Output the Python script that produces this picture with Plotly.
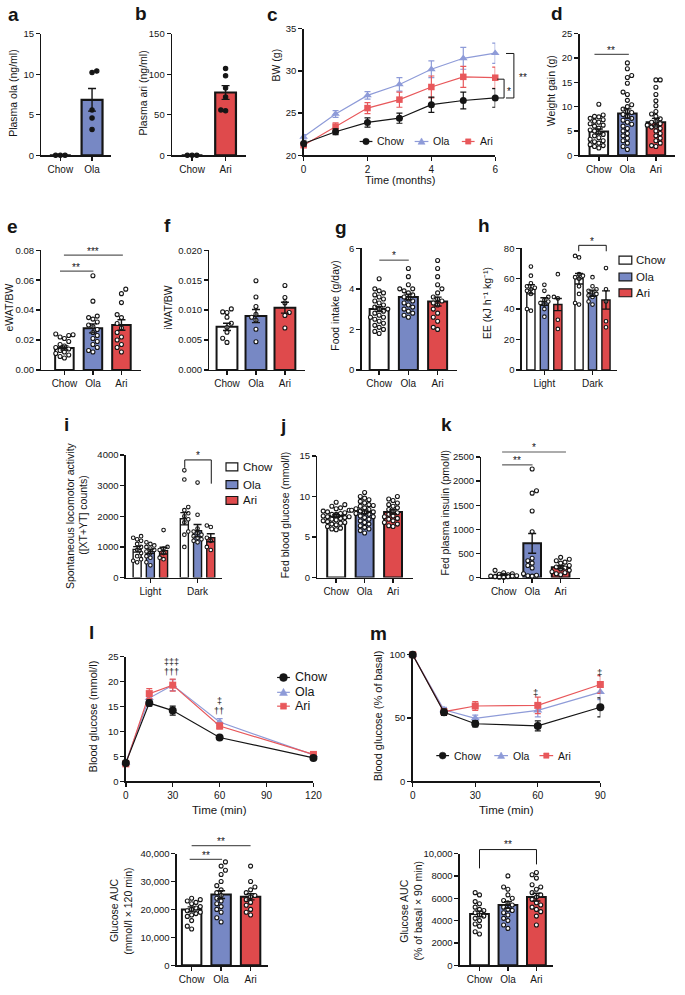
import plotly.graph_objects as go

W, H = 685, 995
FONT = "Liberation Sans, Arial, Helvetica, sans-serif"
INK = "#151515"
SIG = "#5a5a5a"
BAR_COLORS = ["#FFFFFF", "#7788C4", "#DF4A4C"]
LINE_COLORS = ["#151515", "#8E9BD8", "#E8585B"]
SYMBOLS = ["circle", "triangle-up", "square"]

# ---------------------------------------------------------------- data
groups = ["Chow", "Ola", "Ari"]

a_groups = ["Chow", "Ola"]
a_mean = [0.0, 6.85]
a_sem = [0.0, 1.4]
a_chow_pts = [0.0, 0.0, 0.0]
a_ola_pts = [10.4, 10.2, 5.6, 4.6, 3.2]

b_groups = ["Chow", "Ari"]
b_mean = [0.0, 77.5]
b_sem = [0.0, 8.5]
b_chow_pts = [0.0, 0.0, 0.0]
b_ari_pts = [107, 98, 83, 72, 56, 55]

c_months = [0, 1, 2, 3, 4, 5, 6]
c_chow = [21.4, 22.8, 23.9, 24.4, 26.0, 26.5, 26.8]
c_chow_sem = [0.3, 0.35, 0.55, 0.6, 0.9, 1.0, 1.1]
c_ola = [22.2, 24.9, 27.1, 28.4, 30.2, 31.5, 32.1]
c_ola_sem = [0.25, 0.4, 0.45, 0.8, 1.0, 1.3, 1.2]
c_ari = [21.2, 23.4, 25.6, 26.6, 28.1, 29.3, 29.2]
c_ari_sem = [0.3, 0.45, 0.65, 0.9, 1.3, 1.25, 1.25]

d_mean = [4.9, 8.6, 6.8]
d_sem = [0.5, 0.95, 0.8]
d_chow_pts = [10.5, 8.3, 8.0, 7.9, 7.6, 7.3, 7.0, 6.8, 6.5, 6.2, 6.0, 5.6, 5.2,
              5.0, 4.6, 4.3, 4.0, 3.6, 3.3, 3.0, 2.8, 2.5, 2.2, 2.0, 1.8, 1.5]
d_ola_pts = [19.0, 17.8, 16.4, 16.0, 14.8, 13.0, 12.5, 11.3, 10.4, 10.0, 9.5, 9.0,
             8.8, 8.4, 8.0, 7.6, 7.2, 6.8, 6.4, 6.0, 5.5, 5.0, 4.5, 4.0, 3.5, 3.0,
             2.5, 1.8, 1.2]
d_ari_pts = [15.5, 15.5, 14.0, 12.5, 11.2, 10.2, 9.0, 8.5, 8.0, 7.5, 7.0, 6.8, 6.5,
             6.2, 6.0, 5.8, 5.5, 5.0, 4.5, 4.0, 3.5, 3.0, 2.5, 2.0, 1.8]

e_mean = [0.0147, 0.0278, 0.0300]
e_sem = [0.0014, 0.0030, 0.0035]
e_chow_pts = [0.024, 0.0235, 0.023, 0.022, 0.021, 0.019, 0.017, 0.016, 0.015,
              0.014, 0.013, 0.012, 0.011, 0.010, 0.009, 0.008]
e_ola_pts = [0.063, 0.046, 0.036, 0.035, 0.034, 0.032, 0.030, 0.029, 0.027, 0.025,
             0.023, 0.021, 0.019, 0.017, 0.015, 0.013, 0.012]
e_ari_pts = [0.054, 0.051, 0.045, 0.037, 0.035, 0.031, 0.028, 0.025, 0.022, 0.020,
             0.017, 0.015, 0.012]

f_mean = [0.0072, 0.0090, 0.0104]
f_sem = [0.0006, 0.0011, 0.0009]
f_chow_pts = [0.0102, 0.0097, 0.0096, 0.0088, 0.0078, 0.0071, 0.0063, 0.0053, 0.0046]
f_ola_pts = [0.0149, 0.0122, 0.0106, 0.0093, 0.0088, 0.0083, 0.0068, 0.0047]
f_ari_pts = [0.0141, 0.0121, 0.0112, 0.0096, 0.0091, 0.0070]

g_mean = [3.0, 3.6, 3.37]
g_sem = [0.12, 0.14, 0.22]
g_chow_pts = [4.5, 4.0, 3.9, 3.8, 3.7, 3.6, 3.5, 3.4, 3.3, 3.2, 3.1, 3.0, 3.0, 2.9,
              2.8, 2.7, 2.6, 2.6, 2.5, 2.4, 2.3, 2.2, 2.1, 2.0, 1.9, 1.8]
g_ola_pts = [5.0, 4.6, 4.2, 4.0, 4.0, 3.9, 3.8, 3.7, 3.6, 3.5, 3.4, 3.3, 3.2, 3.1,
             3.0, 2.9, 2.8, 2.7, 2.6]
g_ari_pts = [5.4, 5.0, 4.6, 4.2, 4.0, 3.8, 3.6, 3.5, 3.4, 3.3, 3.2, 3.0, 2.8, 2.6,
             2.4, 2.1, 2.0]

h_periods = ["Light", "Dark"]
h_chow = [53, 60]
h_chow_sem = [3.0, 3.5]
h_ola = [45, 50.5]
h_ola_sem = [2.5, 2.0]
h_ari = [43, 46]
h_ari_sem = [4.0, 6.0]
h_chow_light_pts = [68, 62, 57, 55, 54, 53, 52, 50, 40, 39]
h_chow_dark_pts = [75, 74, 63, 62, 61, 60, 55, 50, 44, 43]
h_ola_light_pts = [56, 52, 48, 46, 45, 44, 43, 40, 35]
h_ola_dark_pts = [61, 55, 53, 52, 51, 50, 49, 48, 45, 43]
h_ari_light_pts = [63, 48, 47, 33, 27]
h_ari_dark_pts = [67, 53, 45, 32, 28]

i_periods = ["Light", "Dark"]
i_chow = [920, 1920]
i_chow_sem = [90, 200]
i_ola = [860, 1530]
i_ola_sem = [70, 200]
i_ari = [880, 1300]
i_ari_sem = [110, 130]
i_chow_light_pts = [1350, 1300, 1250, 1200, 1100, 1000, 900, 800, 700, 600, 550, 500]
i_chow_dark_pts = [3500, 3200, 2300, 2200, 2100, 2000, 1900, 1800, 1500, 1400, 1000]
i_ola_light_pts = [1150, 1100, 1050, 1000, 950, 900, 850, 800, 700, 650, 500, 400]
i_ola_dark_pts = [3100, 2050, 1600, 1500, 1450, 1400, 1350, 1300, 1250, 1200, 1150]
i_ari_light_pts = [1550, 1000, 950, 900, 800, 650, 600]
i_ari_dark_pts = [1700, 1650, 1300, 1200, 1000, 900]

j_mean = [7.6, 8.1, 8.1]
j_sem = [0.15, 0.22, 0.25]
j_chow_pts = [9.3, 9.0, 8.8, 8.6, 8.5, 8.3, 8.2, 8.1, 8.0, 7.9, 7.8, 7.8, 7.7, 7.6,
              7.5, 7.5, 7.4, 7.3, 7.2, 7.1, 7.0, 6.9, 6.8, 6.7, 6.6, 6.5, 6.3, 6.1,
              6.0, 5.9]
j_ola_pts = [10.5, 10.0, 9.8, 9.6, 9.4, 9.2, 9.0, 8.9, 8.8, 8.6, 8.5, 8.4, 8.3, 8.2,
             8.1, 8.0, 7.9, 7.8, 7.6, 7.5, 7.4, 7.2, 7.0, 6.8, 6.6, 6.4, 6.2, 6.0,
             5.8, 5.5]
j_ari_pts = [10.0, 9.7, 9.5, 9.2, 9.0, 8.8, 8.6, 8.4, 8.2, 8.0, 7.8, 7.6, 7.5, 7.3,
             7.2, 7.0, 6.8, 6.6, 6.4, 6.3]

k_mean = [60, 710, 215]
k_sem = [12, 205, 30]
k_chow_pts = [150, 100, 80, 70, 60, 50, 40, 30, 30, 20, 20, 10, 5]
k_ola_pts = [2250, 1800, 1750, 1380, 950, 400, 350, 300, 250, 200, 80, 50, 40, 30]
k_ari_pts = [420, 380, 350, 320, 300, 250, 220, 200, 180, 150, 120, 100, 80, 60]

l_time = [0, 15, 30, 60, 120]
l_chow = [3.7, 15.7, 14.2, 8.8, 4.7]
l_chow_sem = [0.2, 0.6, 0.9, 0.35, 0.2]
l_ola = [3.8, 16.7, 19.3, 11.9, 5.3]
l_ola_sem = [0.2, 1.0, 1.1, 0.7, 0.3]
l_ari = [3.5, 17.6, 19.3, 11.1, 5.4]
l_ari_sem = [0.2, 1.0, 1.2, 0.6, 0.3]

m_time = [0, 15, 30, 60, 90]
m_chow = [100, 54.5, 45.5, 43.8, 58.5]
m_chow_sem = [0, 2.5, 2.5, 4.0, 7.5]
m_ola = [100, 56.5, 49.8, 56.0, 70.5]
m_ola_sem = [0, 2.0, 2.5, 5.0, 6.0]
m_ari = [100, 55.0, 59.5, 60.0, 76.5]
m_ari_sem = [0, 2.0, 3.5, 6.5, 7.0]

la_mean = [20000, 25300, 24500]
la_sem = [900, 1400, 1100]
la_chow_pts = [24000, 23500, 23000, 22500, 22000, 21000, 20500, 20000, 19500, 19000,
               18500, 18000, 17500, 16000, 14000, 13000]
la_ola_pts = [37000, 35500, 34000, 32500, 30000, 28500, 27000, 26000, 25000, 24000,
              23000, 22000, 21000, 20000, 19000, 17000, 15500]
la_ari_pts = [35500, 30000, 28000, 27000, 26000, 25000, 24500, 23500, 22500, 21500,
              20000, 19000, 18000]

ma_mean = [4600, 5400, 6100]
ma_sem = [250, 300, 350]
ma_chow_pts = [6500, 6300, 5700, 5500, 5200, 5000, 4900, 4700, 4500, 4400, 4200, 4000,
               3700, 3500, 3000, 2800]
ma_ola_pts = [8000, 7000, 6800, 6300, 6000, 5800, 5600, 5400, 5200, 5000, 4900, 4700,
              4500, 4200, 4000, 3600, 3300]
ma_ari_pts = [8300, 8100, 7800, 7200, 7000, 6800, 6500, 6300, 6100, 5900, 5600, 5400,
              5200, 5000, 4800, 4400, 3600]

# ---------------------------------------------------------------- helpers
traces = []
axes = {}
shapes = []
annotations = []


def axname(kind, n):
    return f"{kind}axis" if n == 1 else f"{kind}axis{n}"


def axref(kind, n):
    return kind if n == 1 else f"{kind}{n}"


def add_panel(n, box, xr, yr, yvals, ytext, xvals, xtext):
    x0, x1, yt, yb = box
    base = dict(showline=True, linecolor=INK, linewidth=1.4, ticks="outside",
                ticklen=4, tickwidth=1.4, tickcolor=INK, showgrid=False,
                zeroline=False, fixedrange=True, tickmode="array")
    xa = dict(base)
    xa.update(domain=[x0 / W, x1 / W], range=list(xr), anchor=axref("y", n),
              tickvals=list(xvals), ticktext=list(xtext),
              tickfont=dict(family=FONT, size=10, color=INK))
    ya = dict(base)
    ya.update(domain=[1 - yb / H, 1 - yt / H], range=list(yr), anchor=axref("x", n),
              tickvals=list(yvals), ticktext=list(ytext),
              tickfont=dict(family=FONT, size=9.5, color=INK))
    axes[axname("x", n)] = xa
    axes[axname("y", n)] = ya
    return dict(xs=(x1 - x0) / (xr[1] - xr[0]), ys=(yb - yt) / (yr[1] - yr[0]))


def swarm(vals, ystep, dx, maxk=3):
    idx = sorted(range(len(vals)), key=lambda i: vals[i])
    placed = []
    offs = [0.0] * len(vals)
    for rank, i in enumerate(idx):
        v = vals[i]
        cands = [0]
        for k in range(1, maxk + 1):
            cands += [k, -k] if rank % 2 == 0 else [-k, k]
        best, fallback, fb_hits = None, 0.0, None
        for c in cands:
            x = c * dx
            hits = sum(1 for (yy, xx) in placed
                       if abs(yy - v) < ystep and abs(xx - x) < dx * 0.9)
            if hits == 0:
                best = x
                break
            if fb_hits is None or hits < fb_hits:
                fb_hits, fallback = hits, x
        if best is None:
            best = fallback
        placed.append((v, best))
        offs[i] = best
    return offs


def bars(n, sc, positions, means, sems, colors, pts_list, width, lw=2.0,
         dot=4.0, dotfill="white", maxk=3):
    xr, yr = axref("x", n), axref("y", n)
    traces.append(go.Bar(x=list(positions), y=list(means), width=width,
                         marker=dict(color=list(colors),
                                     line=dict(color=INK, width=lw)),
                         xaxis=xr, yaxis=yr, showlegend=False, hoverinfo="skip"))
    ystep = (dot + 0.6) / sc["ys"]
    dx = (dot + 0.4) / sc["xs"]
    for pos, pts in zip(positions, pts_list):
        offs = swarm(pts, ystep, dx, maxk)
        traces.append(go.Scatter(x=[pos + o for o in offs], y=list(pts), mode="markers",
                                 marker=dict(size=dot, color=dotfill,
                                             line=dict(color=INK, width=1.1)),
                                 xaxis=xr, yaxis=yr, showlegend=False,
                                 cliponaxis=False, hoverinfo="skip"))
    traces.append(go.Scatter(x=list(positions), y=list(means), mode="markers",
                             marker=dict(size=2, color="rgba(0,0,0,0)"),
                             error_y=dict(type="data", array=list(sems), color=INK,
                                          thickness=1.4, width=4),
                             xaxis=xr, yaxis=yr, showlegend=False,
                             cliponaxis=False, hoverinfo="skip"))


def lines(n, x, series, sems, sizes):
    xr, yr = axref("x", n), axref("y", n)
    for k in [1, 2, 0]:
        traces.append(go.Scatter(x=list(x), y=list(series[k]), mode="lines+markers",
                                 line=dict(color=LINE_COLORS[k], width=1.2),
                                 marker=dict(symbol=SYMBOLS[k], size=sizes[k],
                                             color=LINE_COLORS[k]),
                                 error_y=dict(type="data", array=list(sems[k]),
                                              color=LINE_COLORS[k], thickness=1.2,
                                              width=3),
                                 xaxis=xr, yaxis=yr, showlegend=False,
                                 cliponaxis=False, hoverinfo="skip"))


def px(x):
    return x / W


def py(y):
    return 1 - y / H


def text(t, x, y, size=10.5, angle=0, bold=False, xanchor="center",
         yanchor="middle", color=INK):
    annotations.append(dict(text=f"<b>{t}</b>" if bold else t, x=px(x), y=py(y),
                            xref="paper", yref="paper", showarrow=False,
                            textangle=angle, xanchor=xanchor, yanchor=yanchor,
                            font=dict(family=FONT, size=size, color=color)))


def seg(x0, y0, x1, y1, color=SIG, width=1.2):
    shapes.append(dict(type="line", xref="paper", yref="paper", x0=px(x0), y0=py(y0),
                       x1=px(x1), y1=py(y1), line=dict(color=color, width=width)))


def rect(x0, y0, x1, y1, fill, lc=INK, lw=1.2):
    shapes.append(dict(type="rect", xref="paper", yref="paper", x0=px(x0), y0=py(y0),
                       x1=px(x1), y1=py(y1), fillcolor=fill,
                       line=dict(color=lc, width=lw)))


def circ(xc, yc, r, fill):
    shapes.append(dict(type="circle", xref="paper", yref="paper", x0=px(xc - r),
                       y0=py(yc + r), x1=px(xc + r), y1=py(yc - r), fillcolor=fill,
                       line=dict(color=fill, width=0.5)))


def tri(xc, yc, r, fill):
    p = (f"M{px(xc - r)},{py(yc + r * 0.8)} L{px(xc + r)},{py(yc + r * 0.8)} "
         f"L{px(xc)},{py(yc - r)} Z")
    shapes.append(dict(type="path", xref="paper", yref="paper", path=p,
                       fillcolor=fill, line=dict(color=fill, width=0.5)))


def line_key(k, x0, x1, y, r, label, fs):
    xc = (x0 + x1) / 2
    seg(x0, y, x1, y, LINE_COLORS[k], 1.2)
    if k == 0:
        circ(xc, y, r, LINE_COLORS[k])
    elif k == 1:
        tri(xc, y, r, LINE_COLORS[k])
    else:
        rect(xc - r * 0.9, y - r * 0.9, xc + r * 0.9, y + r * 0.9, LINE_COLORS[k],
             LINE_COLORS[k], 0.5)
    text(label, x1 + 3, y, size=fs, xanchor="left")


def tick_labels(vals, decimals=0, comma=False):
    if comma:
        return [f"{v:,.0f}" for v in vals]
    return [f"{v:.{decimals}f}" for v in vals]


cat3 = [0, 1, 2]

# ---------------------------------------------------------------- panels
yv = [0, 5, 10, 15]
sc = add_panel(1, (39, 110, 28, 151), [-0.6, 1.6], [0, 15], yv, tick_labels(yv),
               [0, 1], a_groups)
bars(1, sc, [0, 1], a_mean, a_sem, [BAR_COLORS[0], BAR_COLORS[1]],
     [a_chow_pts, a_ola_pts], 0.66, lw=2.2, dot=4.4, dotfill=INK)

yv = [0, 50, 100, 150]
sc = add_panel(2, (172, 247, 28, 151), [-0.6, 1.6], [0, 150], yv, tick_labels(yv),
               [0, 1], b_groups)
bars(2, sc, [0, 1], b_mean, b_sem, [BAR_COLORS[0], BAR_COLORS[2]],
     [b_chow_pts, b_ari_pts], 0.62, lw=2.2, dot=4.4, dotfill=INK)

yv = [20, 25, 30, 35]
add_panel(3, (306, 501, 23, 151), [0, 6], [20, 35], yv, tick_labels(yv),
          [0, 2, 4, 6], ["0", "2", "4", "6"])
lines(3, c_months, [c_chow, c_ola, c_ari], [c_chow_sem, c_ola_sem, c_ari_sem],
      [7, 7.5, 6.5])

yv = [0, 5, 10, 15, 20, 25]
sc = add_panel(4, (587, 684, 28, 151), [-0.67, 2.67], [0, 25], yv, tick_labels(yv),
               cat3, groups)
bars(4, sc, cat3, d_mean, d_sem, BAR_COLORS, [d_chow_pts, d_ola_pts, d_ari_pts], 0.65)

yv = [0, 0.02, 0.04, 0.06, 0.08]
sc = add_panel(5, (39, 140, 247, 368), [-0.81, 2.67], [0, 0.08], yv,
               tick_labels(yv, 2), cat3, groups)
bars(5, sc, cat3, e_mean, e_sem, BAR_COLORS, [e_chow_pts, e_ola_pts, e_ari_pts], 0.65)

yv = [0, 0.005, 0.010, 0.015, 0.020]
sc = add_panel(6, (210, 307, 247, 368), [-0.61, 2.68], [0, 0.02], yv,
               tick_labels(yv, 3), cat3, groups)
bars(6, sc, cat3, f_mean, f_sem, BAR_COLORS, [f_chow_pts, f_ola_pts, f_ari_pts], 0.72)

yv = [0, 2, 4, 6]
sc = add_panel(7, (365, 462, 245, 368), [-0.6, 2.66], [0, 6], yv, tick_labels(yv),
               cat3, groups)
bars(7, sc, cat3, g_mean, g_sem, BAR_COLORS, [g_chow_pts, g_ola_pts, g_ari_pts], 0.65)

yv = [0, 20, 40, 60, 80]
sc = add_panel(8, (528, 625, 245, 368), [-0.47, 1.51], [0, 80], yv, tick_labels(yv),
               [0, 1], h_periods)
GOFF = 0.28
BW2 = 0.17
h_means = [h_chow, h_ola, h_ari]
h_sems = [h_chow_sem, h_ola_sem, h_ari_sem]
h_pts = [[h_chow_light_pts, h_chow_dark_pts], [h_ola_light_pts, h_ola_dark_pts],
         [h_ari_light_pts, h_ari_dark_pts]]
for k in range(3):
    pos = [p + (k - 1) * GOFF for p in (0, 1)]
    bars(8, sc, pos, h_means[k], h_sems[k], [BAR_COLORS[k]] * 2, h_pts[k], BW2,
         lw=1.4, dot=3.6, maxk=1)

yv = [0, 1000, 2000, 3000, 4000]
sc = add_panel(9, (125, 223, 454, 578), [-0.52, 1.52], [0, 4000], yv,
               tick_labels(yv), [0, 1], i_periods)
i_means = [i_chow, i_ola, i_ari]
i_sems = [i_chow_sem, i_ola_sem, i_ari_sem]
i_pts = [[i_chow_light_pts, i_chow_dark_pts], [i_ola_light_pts, i_ola_dark_pts],
         [i_ari_light_pts, i_ari_dark_pts]]
for k in range(3):
    pos = [p + (k - 1) * GOFF for p in (0, 1)]
    bars(9, sc, pos, i_means[k], i_sems[k], [BAR_COLORS[k]] * 2, i_pts[k], BW2,
         lw=1.4, dot=3.6, maxk=1)

yv = [0, 5, 10, 15]
sc = add_panel(10, (320, 417, 455, 578), [-0.66, 2.69], [0, 15], yv, tick_labels(yv),
               cat3, groups)
bars(10, sc, cat3, j_mean, j_sem, BAR_COLORS, [j_chow_pts, j_ola_pts, j_ari_pts], 0.63)

yv = [0, 500, 1000, 1500, 2000, 2500]
sc = add_panel(11, (487, 587, 456, 578), [-0.78, 2.67], [0, 2500], yv,
               tick_labels(yv), cat3, groups)
bars(11, sc, cat3, k_mean, k_sem, BAR_COLORS, [k_chow_pts, k_ola_pts, k_ari_pts], 0.62)

yv = [0, 5, 10, 15, 20, 25]
add_panel(12, (125, 316, 658, 784), [0, 120], [0, 25], yv, tick_labels(yv),
          [0, 30, 60, 90, 120], ["0", "30", "60", "90", "120"])
lines(12, l_time, [l_chow, l_ola, l_ari], [l_chow_sem, l_ola_sem, l_ari_sem],
      [8, 8, 7])

yv = [0, 50, 100]
add_panel(13, (417, 608, 656, 784), [0, 90], [0, 100], yv, tick_labels(yv),
          [0, 30, 60, 90], ["0", "30", "60", "90"])
lines(13, m_time, [m_chow, m_ola, m_ari], [m_chow_sem, m_ola_sem, m_ari_sem],
      [8, 8, 7])

yv = [0, 10000, 20000, 30000, 40000]
sc = add_panel(14, (177, 270, 857, 970), [-0.5, 2.6], [0, 40000], yv,
               tick_labels(yv, comma=True), cat3, groups)
bars(14, sc, cat3, la_mean, la_sem, BAR_COLORS, [la_chow_pts, la_ola_pts, la_ari_pts],
     0.66)

yv = [0, 2000, 4000, 6000, 8000, 10000]
sc = add_panel(15, (465, 560, 857, 970), [-0.69, 2.59], [0, 10000], yv,
               ["0", "2000", "4000", "6000", "8000", "10,000"], cat3, groups)
bars(15, sc, cat3, ma_mean, ma_sem, BAR_COLORS, [ma_chow_pts, ma_ola_pts, ma_ari_pts],
     0.66)

# ---------------------------------------------------------------- legends
for k, (x0, x1) in enumerate([(363, 376), (419, 433), (467, 480)]):
    line_key(k, x0, x1, 137, [3.3, 3.6, 3.0][k], groups[k], 10.5)
for k, y in enumerate([679, 694, 708]):
    line_key(k, 279, 292, y, [4, 4, 3.4][k], groups[k], 12.5)
for k, (x0, x1) in enumerate([(441, 454), (500, 514), (546, 560)]):
    line_key(k, x0, x1, 758, [3.5, 3.6, 3.0][k], groups[k], 10.5)
for k, y in enumerate([257, 274, 290]):
    rect(627, y - 4, 640, y + 4, BAR_COLORS[k])
    text(groups[k], 642, y, size=11.5, xanchor="left")
for k, y in enumerate([466, 484, 500]):
    rect(227, y - 4, 239, y + 4, BAR_COLORS[k])
    text(groups[k], 242, y, size=11.5, xanchor="left")

# ---------------------------------------------------------------- labels
for t, x, y in [("a", 3, 9), ("b", 132, 8), ("c", 267, 9), ("d", 556, 8),
                ("e", 2, 223), ("f", 162, 222), ("g", 336, 224), ("h", 481, 222),
                ("i", 60, 423), ("j", 280, 424), ("k", 444, 423), ("l", 86, 633),
                ("m", 372, 635)]:
    text(t, x, y, size=19, bold=True, xanchor="left")

YT = 10.5
text("Plasma ola (ng/ml)", 10, 88, YT, -90)
text("Plasma ari (ng/ml)", 143, 88, YT, -90)
text("BW (g)", 278, 60, YT, -90)
text("Weight gain (g)", 558, 86, YT, -90)
text("Time (months)", 405, 176, 11)
text("eWAT/BW", 6, 305, YT, -90)
text("iWAT/BW", 168, 305, YT, -90)
text("Food intake (g/day)", 338, 303, YT, -90)
text("EE (kJ h⁻¹ kg⁻¹)", 492, 300, YT, -90)
text("Spontaneous locomotor activity", 68, 515, YT, -90)
text("([XT+YT] counts)", 82, 515, YT, -90)
text("Fed blood glucose (mmol/l)", 287, 514, YT, -90)
text("Fed plasma insulin (pmol/l)", 450, 513, YT, -90)
text("Blood glucose (mmol/l)", 92, 718, 11, -90)
text("Blood glucose (% of basal)", 382, 718, 11, -90)
text("Time (min)", 220, 813, 11.5)
text("Time (min)", 512, 813, 11.5)
text("Glucose AUC", 113, 915, YT, -90)
text("(mmol/l × 120 min)", 127, 915, YT, -90)
text("Glucose AUC", 408, 915, YT, -90)
text("(% of basal × 90 min)", 422, 915, YT, -90)

# ---------------------------------------------------------------- significance
seg(520, 48, 520, 93, INK, 1)
seg(512, 48, 520, 48, INK, 1)
seg(512, 93, 520, 93, INK, 1)
text("**", 529, 72, 10)
seg(510, 74, 510, 93, INK, 1)
seg(503, 74, 510, 74, INK, 1)
seg(503, 93, 510, 93, INK, 1)
text("*", 515, 86, 10)
seg(602, 49, 637, 49)
text("**", 619, 45, 10)
seg(62, 252, 122, 252)
text("***", 92, 248, 10)
seg(58, 268, 92, 268)
text("**", 74, 264, 10)
seg(383, 257, 413, 257)
text("*", 398, 252, 10)
seg(586, 242, 614, 242, INK, 1)
seg(586, 242, 586, 248, INK, 1)
seg(614, 242, 614, 248, INK, 1)
text("*", 600, 238, 10)
seg(185, 459, 212, 459, INK, 1)
seg(185, 459, 185, 467, INK, 1)
seg(212, 459, 212, 483, INK, 1)
text("*", 198, 455, 10)
seg(508, 451, 573, 451)
text("*", 540, 446, 10)
seg(508, 464, 539, 464)
text("**", 523, 460, 10)
text("‡‡‡", 172, 663, 9)
text("†††", 172, 673, 9)
text("‡", 220, 703, 9)
text("††", 220, 713, 9)
text("‡", 542, 694, 9.5)
text("‡", 607, 674, 9.5)
seg(192, 849, 252, 849)
text("**", 222, 845, 10)
seg(190, 863, 223, 863)
text("**", 207, 859, 10)
seg(485, 853, 543, 853, INK, 1)
seg(485, 853, 485, 872, INK, 1)
seg(543, 853, 543, 868, INK, 1)
text("**", 514, 848, 10)

fig = go.Figure(data=traces)
fig.update_layout(width=W, height=H, margin=dict(l=0, r=0, t=0, b=0),
                  paper_bgcolor="white", plot_bgcolor="white", showlegend=False,
                  barmode="overlay", font=dict(family=FONT, color=INK),
                  shapes=shapes, annotations=annotations)
fig.update_layout(axes)
fig.write_html("out.html", include_plotlyjs=True,
               config={"displayModeBar": False, "staticPlot": True},
               post_script="document.body.style.margin='0';")
